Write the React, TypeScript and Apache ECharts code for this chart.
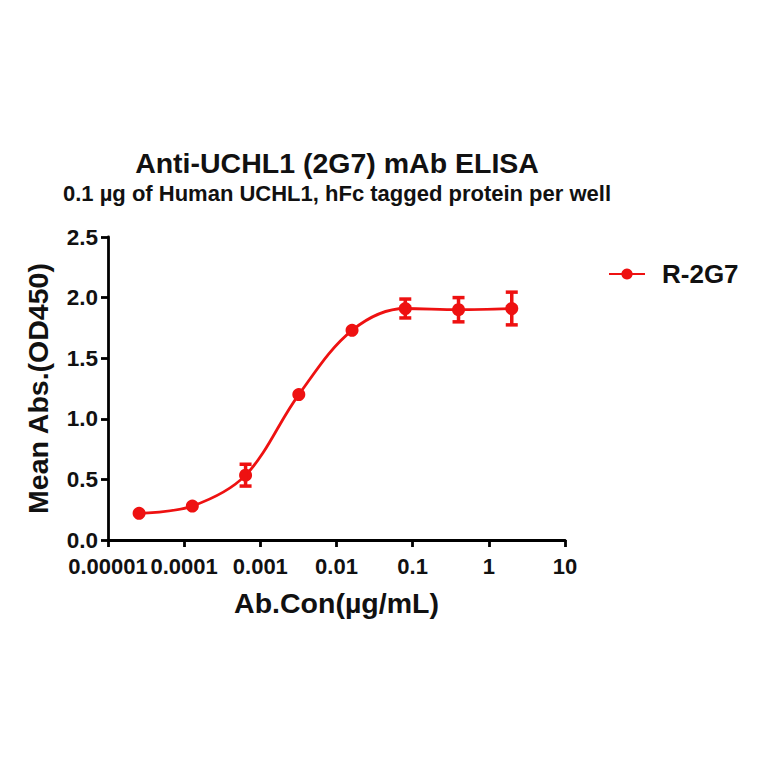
import React, { useEffect, useRef } from "react";
import * as echarts from "echarts";

const concentrations = [0.0000256, 0.000128, 0.00064, 0.0032, 0.016, 0.08, 0.4, 2];
const meanAbs = [0.22, 0.28, 0.535, 1.2, 1.73, 1.91, 1.9, 1.91];
const errorSD = [0, 0, 0.09, 0, 0, 0.078, 0.1, 0.135];
const xTickLabels = ["0.00001", "0.0001", "0.001", "0.01", "0.1", "1", "10"];
const seriesName = "R-2G7";
const titleText = "Anti-UCHL1 (2G7) mAb ELISA";
const subtitleText = "0.1 µg of Human UCHL1, hFc tagged protein per well";

const RED = "#ee1111";
const FONT = "'Liberation Sans', Arial, sans-serif";

export default function App() {
  const ref = useRef<HTMLDivElement>(null);
  useEffect(() => {
    if (!ref.current) return;
    const chart = echarts.init(ref.current, null, { renderer: "svg" });
    const lineData = concentrations.map((c, i) => [c, meanAbs[i]]);
    const errData = concentrations.map((c, i) => [c, meanAbs[i], errorSD[i]]);
    chart.setOption({
      animation: false,
      backgroundColor: "#ffffff",
      textStyle: { fontFamily: FONT },
      title: [
        {
          text: titleText,
          left: 337,
          top: 148,
          padding: 0,
          textAlign: "center",
          textStyle: { fontFamily: FONT, fontWeight: "bold", fontSize: 28.5, color: "#111" },
        },
        {
          text: subtitleText,
          left: 337,
          top: 182,
          padding: 0,
          textAlign: "center",
          textStyle: { fontFamily: FONT, fontWeight: "bold", fontSize: 22, color: "#111" },
        },
      ],
      legend: {
        data: [seriesName],
        left: 603,
        top: 256,
        itemWidth: 36,
        itemHeight: 14,
        textStyle: { fontFamily: FONT, fontWeight: "bold", fontSize: 26, color: "#111", padding: [0, 0, 0, 12] },
      },
      grid: { left: 108, right: 199, top: 237, bottom: 224, containLabel: false },
      xAxis: {
        type: "log",
        logBase: 10,
        min: 0.00001,
        max: 10,
        name: "Ab.Con(µg/mL)",
        nameLocation: "middle",
        nameGap: 48,
        nameTextStyle: { fontFamily: FONT, fontWeight: "bold", fontSize: 28.5, color: "#111" },
        axisLine: { lineStyle: { color: "#000", width: 2.8 } },
        axisTick: { show: true, length: 7, lineStyle: { color: "#000", width: 2.8 } },
        minorTick: { show: false },
        splitLine: { show: false },
        axisLabel: {
          hideOverlap: false,
          margin: 15,
          lineHeight: 22,
          fontFamily: FONT,
          fontWeight: "bold",
          fontSize: 22,
          color: "#111",
          formatter: (v: number) => {
            const idx = Math.round(Math.log10(v)) + 5;
            return xTickLabels[idx] ?? "";
          },
        },
      },
      yAxis: {
        type: "value",
        min: 0,
        max: 2.5,
        interval: 0.5,
        name: "Mean Abs.(OD450)",
        nameLocation: "middle",
        nameGap: 56,
        nameTextStyle: { fontFamily: FONT, fontWeight: "bold", fontSize: 28.5, color: "#111" },
        axisLine: { show: true, lineStyle: { color: "#000", width: 2.8 } },
        axisTick: { show: true, length: 7, lineStyle: { color: "#000", width: 2.8 } },
        splitLine: { show: false },
        axisLabel: {
          margin: 10,
          lineHeight: 22,
          fontFamily: FONT,
          fontWeight: "bold",
          fontSize: 22.5,
          color: "#111",
          formatter: (v: number) => v.toFixed(1),
        },
      },
      series: [
        {
          name: seriesName,
          type: "line",
          data: lineData,
          smooth: 0.35,
          symbol: "circle",
          symbolSize: 13,
          itemStyle: { color: RED },
          lineStyle: { color: RED, width: 2.8 },
          z: 3,
        },
        {
          name: "err",
          type: "custom",
          data: errData,
          z: 4,
          renderItem: (params: any, api: any) => {
            const x = api.value(0);
            const y = api.value(1);
            const e = api.value(2);
            if (!e) return null;
            const top = api.coord([x, y + e]);
            const bot = api.coord([x, y - e]);
            const hw = 6;
            const style = { stroke: RED, lineWidth: 3.5 };
            return {
              type: "group",
              children: [
                { type: "line", shape: { x1: top[0], y1: top[1], x2: bot[0], y2: bot[1] }, style },
                { type: "line", shape: { x1: top[0] - hw, y1: top[1], x2: top[0] + hw, y2: top[1] }, style },
                { type: "line", shape: { x1: bot[0] - hw, y1: bot[1], x2: bot[0] + hw, y2: bot[1] }, style },
              ],
            };
          },
        },
      ],
    });
    return () => chart.dispose();
  }, []);
  return <div ref={ref} style={{ width: 764, height: 764, position: "absolute", left: 0, top: 0 }} />;
}
